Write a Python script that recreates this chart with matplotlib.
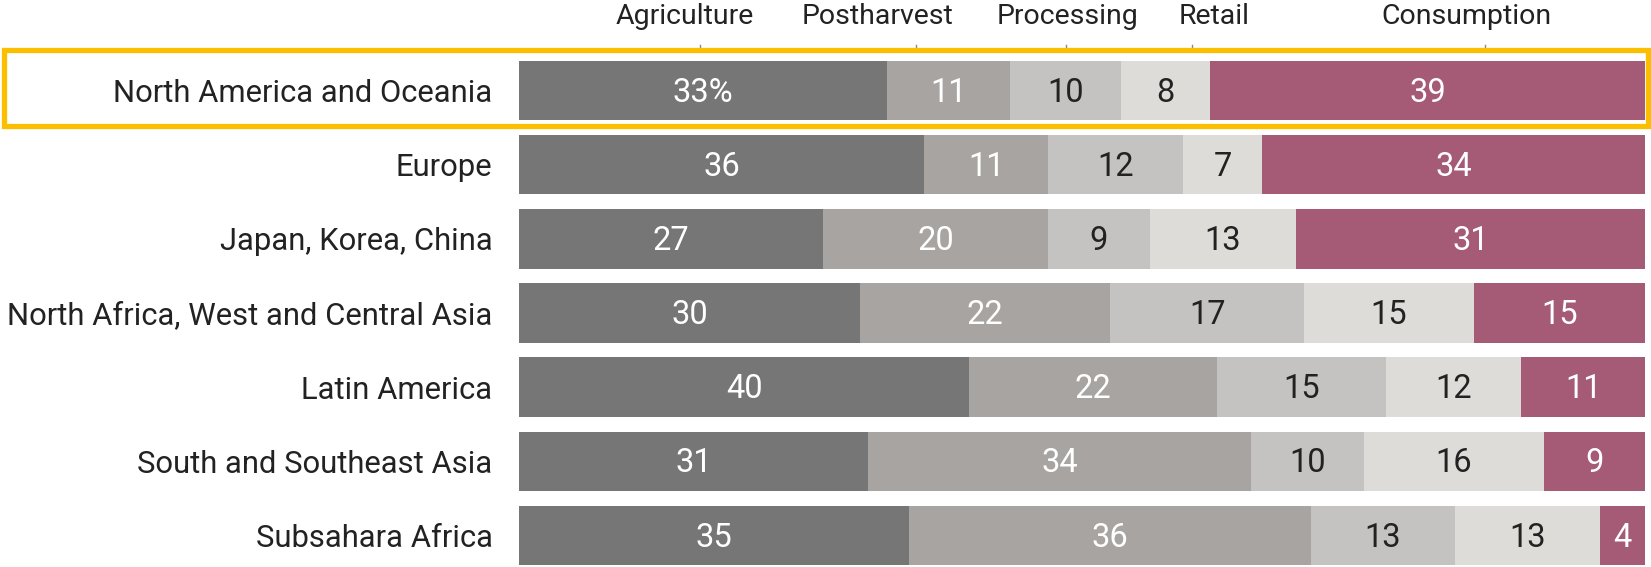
import matplotlib
matplotlib.use("Agg")
import matplotlib.pyplot as plt
from matplotlib.patches import Rectangle
import numpy as np

plt.rcParams['font.family'] = ['Roboto', 'DejaVu Sans']

# data: share of food loss and waste by stage (%)
regions = ["North America and Oceania", "Europe", "Japan, Korea, China",
           "North Africa, West and Central Asia", "Latin America",
           "South and Southeast Asia", "Subsahara Africa"]
stages = ["Agriculture", "Postharvest", "Processing", "Retail", "Consumption"]
agriculture = [33, 36, 27, 30, 40, 31, 35]
postharvest = [11, 11, 20, 22, 22, 34, 36]
processing = [10, 12, 9, 17, 15, 10, 13]
retail = [8, 7, 13, 15, 12, 16, 13]
consumption = [39, 34, 31, 15, 11, 9, 4]

# header label / tick positions along the bar (share of width, %)
label_pos = [14.7, 31.8, 48.7, 61.7, 84.1]
tick_pos = [16.1, 35.3, 48.6, 59.8, 85.8]

colors = ["#767676", "#a8a4a1", "#c4c3c1", "#dddcd8", "#a55a76"]
text_colors = ["white", "white", "#222222", "#222222", "white"]

W, H = 1651, 567
fig = plt.figure(figsize=(W / 100, H / 100), dpi=100)
ax = fig.add_axes([519 / W, (H - 565) / H, (1645 - 519) / W, (565 - 61) / H])

data = np.array([agriculture, postharvest, processing, retail, consumption], dtype=float).T
shares = data / data.sum(axis=1, keepdims=True) * 100

for i, row in enumerate(shares):
    left = 0
    for j, w in enumerate(row):
        ax.barh(i, w, left=left, height=0.8, color=colors[j], edgecolor="none")
        txt = str(int(data[i, j]))
        if i == 0 and j == 0:
            txt += "%"
        ax.text(left + w / 2, i + 0.03, txt, ha="center", va="center",
                fontsize=23.5, color=text_colors[j])
        left += w

ax.set_xlim(0, 100)
ax.set_ylim(6.4, -0.4)
ax.set_yticks(range(len(regions)))
ax.set_yticklabels(regions, fontsize=22.3, color="#222222")
ax.tick_params(axis="y", length=0, pad=19)
ax.set_xticks([])
for s in ax.spines.values():
    s.set_visible(False)

# header labels and small ticks
for lab, x in zip(stages, label_pos):
    ax.text(x, -0.4 - 0.6, lab, ha="center", va="center", fontsize=20.5,
            color="#222222", clip_on=False)
for x in tick_pos:
    ax.plot([x, x], [-0.4 - 0.22, -0.4 - 0.13], color="#888888", lw=1, clip_on=False)

# highlight box around first row
fig.patches.append(Rectangle((4 / W, (H - 126) / H), (1644 / W), (76 / H),
                             transform=fig.transFigure, fill=False,
                             edgecolor="#fcbf00", linewidth=3.8, zorder=10))

fig.savefig("out.png", dpi=100, facecolor="white")
